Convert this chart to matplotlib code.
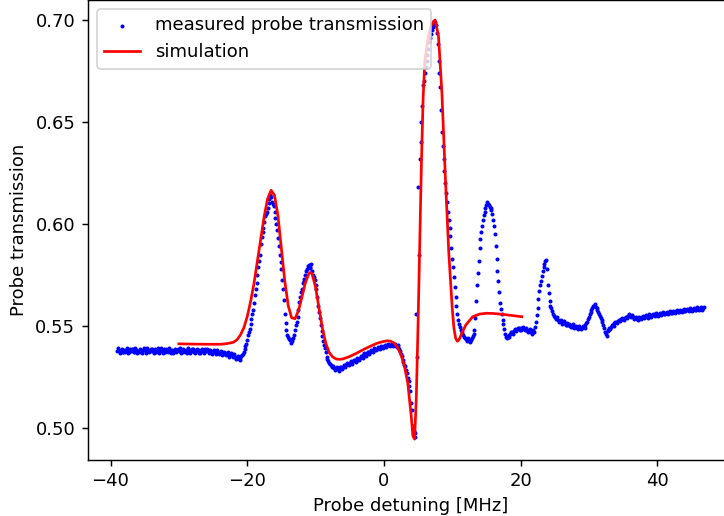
import numpy as np
import matplotlib
matplotlib.use("Agg")
import matplotlib.pyplot as plt

# measured probe transmission, two interleaved sweeps (0.25 MHz step each)
detuning_a = np.arange(-39, 47, 0.25)
transmission_a = [
    0.5375, 0.5382, 0.5378, 0.5371,  # -39
    0.5384, 0.5376, 0.5380, 0.5374,  # -38
    0.5379, 0.5386, 0.5373, 0.5381,  # -37
    0.5377, 0.5383, 0.5376, 0.5380,  # -36
    0.5385, 0.5374, 0.5379, 0.5382,  # -35
    0.5376, 0.5381, 0.5387, 0.5375,  # -34
    0.5380, 0.5377, 0.5383, 0.5378,  # -33
    0.5374, 0.5382, 0.5379, 0.5376,  # -32
    0.5381, 0.5375, 0.5378, 0.5384,  # -31
    0.5377, 0.5380, 0.5374, 0.5379,  # -30
    0.5383, 0.5376, 0.5381, 0.5377,  # -29
    0.5378, 0.5372, 0.5380, 0.5376,  # -28
    0.5381, 0.5375, 0.5378, 0.5373,  # -27
    0.5377, 0.5380, 0.5371, 0.5376,  # -26
    0.5374, 0.5378, 0.5369, 0.5373,  # -25
    0.5368, 0.5372, 0.5365, 0.5363,  # -24
    0.5366, 0.5360, 0.5357, 0.5361,  # -23
    0.5352, 0.5347, 0.5342, 0.5338,  # -22
    0.5345, 0.5355, 0.5370, 0.5400,  # -21
    0.5430, 0.5470, 0.5510, 0.5560,  # -20
    0.5610, 0.5680, 0.5750, 0.5820,  # -19
    0.5900, 0.5960, 0.6010, 0.6050,  # -18
    0.6080, 0.6120, 0.6130, 0.6100,  # -17
    0.6060, 0.6000, 0.5930, 0.5850,  # -16
    0.5780, 0.5680, 0.5560, 0.5480,  # -15
    0.5446, 0.5430, 0.5425, 0.5440,  # -14
    0.5480, 0.5520, 0.5580, 0.5640,  # -13
    0.5680, 0.5720, 0.5750, 0.5780,  # -12
    0.5800, 0.5790, 0.5770, 0.5740,  # -11
    0.5700, 0.5640, 0.5570, 0.5505,  # -10
    0.5450, 0.5405, 0.5370, 0.5340,  # -9
    0.5320, 0.5310, 0.5300, 0.5295,  # -8
    0.5290, 0.5288, 0.5293, 0.5298,  # -7
    0.5300, 0.5306, 0.5310, 0.5315,  # -6
    0.5318, 0.5322, 0.5328, 0.5331,  # -5
    0.5335, 0.5340, 0.5344, 0.5350,  # -4
    0.5356, 0.5360, 0.5366, 0.5370,  # -3
    0.5374, 0.5378, 0.5382, 0.5386,  # -2
    0.5389, 0.5393, 0.5396, 0.5398,  # -1
    0.5400, 0.5403, 0.5405, 0.5406,  # 0
    0.5408, 0.5407, 0.5405, 0.5402,  # 1
    0.5398, 0.5385, 0.5360, 0.5335,  # 2
    0.5310, 0.5285, 0.5245, 0.5205,  # 3
    0.5120, 0.5010, 0.4955, 0.5560,  # 4
    0.6180, 0.6320, 0.6500, 0.6680,  # 5
    0.6740, 0.6800, 0.6860, 0.6910,  # 6
    0.6950, 0.6975, 0.6990, 0.6935,  # 7
    0.6800, 0.6670, 0.6450, 0.6320,  # 8
    0.6200, 0.6110, 0.6020, 0.5940,  # 9
    0.5830, 0.5740, 0.5640, 0.5560,  # 10
    0.5510, 0.5480, 0.5462, 0.5448,  # 11
    0.5438, 0.5432, 0.5430, 0.5432,  # 12
    0.5450, 0.5480, 0.5620, 0.5760,  # 13
    0.5880, 0.5960, 0.6020, 0.6060,  # 14
    0.6095, 0.6100, 0.6085, 0.6070,  # 15
    0.6020, 0.5950, 0.5830, 0.5720,  # 16
    0.5610, 0.5560, 0.5510, 0.5460,  # 17
    0.5440, 0.5448, 0.5460, 0.5468,  # 18
    0.5475, 0.5480, 0.5485, 0.5488,  # 19
    0.5490, 0.5488, 0.5485, 0.5482,  # 20
    0.5480, 0.5476, 0.5470, 0.5466,  # 21
    0.5470, 0.5520, 0.5590, 0.5670,  # 22
    0.5720, 0.5770, 0.5805, 0.5823,  # 23
    0.5700, 0.5620, 0.5590, 0.5560,  # 24
    0.5545, 0.5535, 0.5528, 0.5522,  # 25
    0.5518, 0.5512, 0.5515, 0.5506,  # 26
    0.5505, 0.5500, 0.5503, 0.5495,  # 27
    0.5497, 0.5491, 0.5493, 0.5488,  # 28
    0.5492, 0.5495, 0.5505, 0.5520,  # 29
    0.5545, 0.5570, 0.5590, 0.5600,  # 30
    0.5595, 0.5580, 0.5560, 0.5540,  # 31
    0.5520, 0.5490, 0.5460, 0.5475,  # 32
    0.5490, 0.5497, 0.5505, 0.5512,  # 33
    0.5518, 0.5523, 0.5527, 0.5532,  # 34
    0.5536, 0.5540, 0.5544, 0.5548,  # 35
    0.5550, 0.5548, 0.5542, 0.5538,  # 36
    0.5535, 0.5539, 0.5538, 0.5543,  # 37
    0.5542, 0.5547, 0.5545, 0.5551,  # 38
    0.5549, 0.5554, 0.5552, 0.5557,  # 39
    0.5554, 0.5559, 0.5557, 0.5562,  # 40
    0.5559, 0.5564, 0.5562, 0.5567,  # 41
    0.5564, 0.5569, 0.5567, 0.5572,  # 42
    0.5569, 0.5574, 0.5572, 0.5577,  # 43
    0.5574, 0.5579, 0.5576, 0.5581,  # 44
    0.5578, 0.5583, 0.5580, 0.5585,  # 45
    0.5582, 0.5587, 0.5584, 0.5587,  # 46
]

detuning_b = np.arange(-38.875, 47, 0.25)
transmission_b = [
    0.5391, 0.5368, 0.5387, 0.5370,  # -39
    0.5372, 0.5390, 0.5369, 0.5388,  # -38
    0.5389, 0.5371, 0.5392, 0.5367,  # -37
    0.5370, 0.5388, 0.5366, 0.5390,  # -36
    0.5368, 0.5392, 0.5370, 0.5386,  # -35
    0.5389, 0.5369, 0.5372, 0.5391,  # -34
    0.5367, 0.5390, 0.5368, 0.5388,  # -33
    0.5389, 0.5370, 0.5391, 0.5369,  # -32
    0.5368, 0.5389, 0.5370, 0.5387,  # -31
    0.5390, 0.5367, 0.5389, 0.5370,  # -30
    0.5369, 0.5391, 0.5368, 0.5388,  # -29
    0.5387, 0.5366, 0.5389, 0.5368,  # -28
    0.5367, 0.5388, 0.5365, 0.5386,  # -27
    0.5388, 0.5366, 0.5384, 0.5364,  # -26
    0.5383, 0.5362, 0.5381, 0.5360,  # -25
    0.5378, 0.5358, 0.5374, 0.5355,  # -24
    0.5371, 0.5350, 0.5368, 0.5348,  # -23
    0.5360, 0.5340, 0.5352, 0.5332,  # -22
    0.5352, 0.5360, 0.5388, 0.5410,  # -21
    0.5455, 0.5485, 0.5535, 0.5580,  # -20
    0.5650, 0.5710, 0.5790, 0.5850,  # -19
    0.5935, 0.5980, 0.6040, 0.6060,  # -18
    0.6105, 0.6140, 0.6110, 0.6090,  # -17
    0.6030, 0.5970, 0.5890, 0.5815,  # -16
    0.5725, 0.5625, 0.5515, 0.5455,  # -15
    0.5438, 0.5418, 0.5435, 0.5455,  # -14
    0.5505, 0.5545, 0.5615, 0.5665,  # -13
    0.5710, 0.5730, 0.5770, 0.5795,  # -12
    0.5785, 0.5805, 0.5750, 0.5725,  # -11
    0.5680, 0.5600, 0.5540, 0.5475,  # -10
    0.5425, 0.5390, 0.5350, 0.5330,  # -9
    0.5312, 0.5298, 0.5305, 0.5285,  # -8
    0.5298, 0.5280, 0.5300, 0.5290,  # -7
    0.5310, 0.5298, 0.5320, 0.5308,  # -6
    0.5328, 0.5315, 0.5335, 0.5325,  # -5
    0.5345, 0.5333, 0.5352, 0.5342,  # -4
    0.5365, 0.5352, 0.5372, 0.5364,  # -3
    0.5383, 0.5370, 0.5390, 0.5380,  # -2
    0.5397, 0.5385, 0.5403, 0.5392,  # -1
    0.5408, 0.5396, 0.5412, 0.5400,  # 0
    0.5414, 0.5400, 0.5410, 0.5396,  # 1
    0.5404, 0.5375, 0.5352, 0.5325,  # 2
    0.5302, 0.5270, 0.5230, 0.5180,  # 3
    0.5090, 0.4985, 0.4975, 0.5350,  # 4
    0.5850, 0.6400, 0.6580, 0.6700,  # 5
    0.6770, 0.6830, 0.6890, 0.6930,  # 6
    0.6965, 0.6995, 0.6975, 0.6880,  # 7
    0.6740, 0.6560, 0.6380, 0.6260,  # 8
    0.6150, 0.6060, 0.5980, 0.5880,  # 9
    0.5790, 0.5690, 0.5600, 0.5530,  # 10
    0.5495, 0.5470, 0.5455, 0.5440,  # 11
    0.5428, 0.5440, 0.5422, 0.5440,  # 12
    0.5462, 0.5540, 0.5700, 0.5820,  # 13
    0.5925, 0.5990, 0.6045, 0.6080,  # 14
    0.6108, 0.6092, 0.6078, 0.6050,  # 15
    0.5990, 0.5890, 0.5770, 0.5665,  # 16
    0.5585, 0.5530, 0.5485, 0.5448,  # 17
    0.5450, 0.5455, 0.5472, 0.5462,  # 18
    0.5485, 0.5474, 0.5492, 0.5480,  # 19
    0.5482, 0.5495, 0.5478, 0.5489,  # 20
    0.5472, 0.5484, 0.5462, 0.5478,  # 21
    0.5495, 0.5555, 0.5630, 0.5700,  # 22
    0.5745, 0.5790, 0.5818, 0.5780,  # 23
    0.5660, 0.5600, 0.5575, 0.5550,  # 24
    0.5538, 0.5545, 0.5520, 0.5530,  # 25
    0.5510, 0.5522, 0.5504, 0.5515,  # 26
    0.5510, 0.5494, 0.5508, 0.5490,  # 27
    0.5500, 0.5485, 0.5498, 0.5484,  # 28
    0.5500, 0.5488, 0.5512, 0.5532,  # 29
    0.5558, 0.5580, 0.5598, 0.5605,  # 30
    0.5590, 0.5570, 0.5550, 0.5530,  # 31
    0.5505, 0.5472, 0.5450, 0.5482,  # 32
    0.5485, 0.5505, 0.5498, 0.5518,  # 33
    0.5512, 0.5530, 0.5522, 0.5538,  # 34
    0.5530, 0.5546, 0.5540, 0.5556,  # 35
    0.5544, 0.5555, 0.5536, 0.5545,  # 36
    0.5530, 0.5545, 0.5532, 0.5550,  # 37
    0.5538, 0.5553, 0.5541, 0.5556,  # 38
    0.5545, 0.5560, 0.5548, 0.5562,  # 39
    0.5551, 0.5565, 0.5553, 0.5568,  # 40
    0.5556, 0.5570, 0.5558, 0.5573,  # 41
    0.5561, 0.5575, 0.5563, 0.5578,  # 42
    0.5566, 0.5580, 0.5568, 0.5583,  # 43
    0.5571, 0.5585, 0.5573, 0.5588,  # 44
    0.5575, 0.5590, 0.5577, 0.5592,  # 45
    0.5579, 0.5593, 0.5580, 0.5592,  # 46
]

# simulated probe transmission
sim_detuning = [-30, -28, -26, -24, -23, -22, -21.5, -21, -20.5, -20, -19.5, -19,
                -18.5, -18, -17.5, -17, -16.5, -16, -15.5, -15, -14.5, -14, -13.5,
                -13, -12.5, -12, -11.5, -11, -10.75, -10.5, -10, -9.5, -9, -8.5, -8,
                -7.5, -7, -6.5, -6, -5, -4, -3, -2, -1, 0, 0.5, 1, 1.5, 2, 2.5, 3,
                3.5, 4, 4.25, 4.5, 4.75, 5, 5.25, 5.5, 5.75, 6, 6.5, 7, 7.5, 8, 8.5,
                9, 9.5, 10, 10.25, 10.5, 10.75, 11, 11.5, 12, 13, 14, 15, 16, 17, 18,
                19, 20.2]
sim_transmission = [0.5412, 0.5411, 0.5410, 0.5410, 0.5413, 0.5420, 0.5432, 0.5455,
                    0.5490, 0.5545, 0.5620, 0.5710, 0.5820, 0.5930, 0.6040, 0.6125,
                    0.6165, 0.6140, 0.6040, 0.5880, 0.5720, 0.5600, 0.5540, 0.5535,
                    0.5575, 0.5640, 0.5710, 0.5755, 0.5762, 0.5755, 0.5690, 0.5590,
                    0.5490, 0.5415, 0.5370, 0.5348, 0.5338, 0.5336, 0.5338, 0.5350,
                    0.5366, 0.5384, 0.5400, 0.5415, 0.5424, 0.5427, 0.5425, 0.5416,
                    0.5395, 0.5360, 0.5305, 0.5220, 0.5060, 0.4960, 0.4945, 0.5150,
                    0.5500, 0.5900, 0.6300, 0.6620, 0.6800, 0.6920, 0.6980, 0.7000,
                    0.6920, 0.6640, 0.6230, 0.5860, 0.5590, 0.5490, 0.5440, 0.5425,
                    0.5432, 0.5470, 0.5505, 0.5545, 0.5558, 0.5562, 0.5561, 0.5558,
                    0.5554, 0.5550, 0.5545]

detuning = np.concatenate([detuning_a, detuning_b])
transmission = np.concatenate([transmission_a, transmission_b])

fig = plt.figure(figsize=(724 / 130, 516 / 130), dpi=130)
ax = fig.add_axes([88 / 724, 56.5 / 516, 645 / 724, 459.5 / 516])

ax.scatter(detuning, transmission, s=1.5, c="b", label="measured probe transmission")
ax.plot(sim_detuning, sim_transmission, "r-", label="simulation")

ax.set_xlim(-43.3, 51.1)
ax.set_ylim(0.4845, 0.7098)
ax.set_xlabel("Probe detuning [MHz]")
ax.set_ylabel("Probe transmission")
ax.legend(loc="upper left")

fig.savefig("out.png", dpi=130)
